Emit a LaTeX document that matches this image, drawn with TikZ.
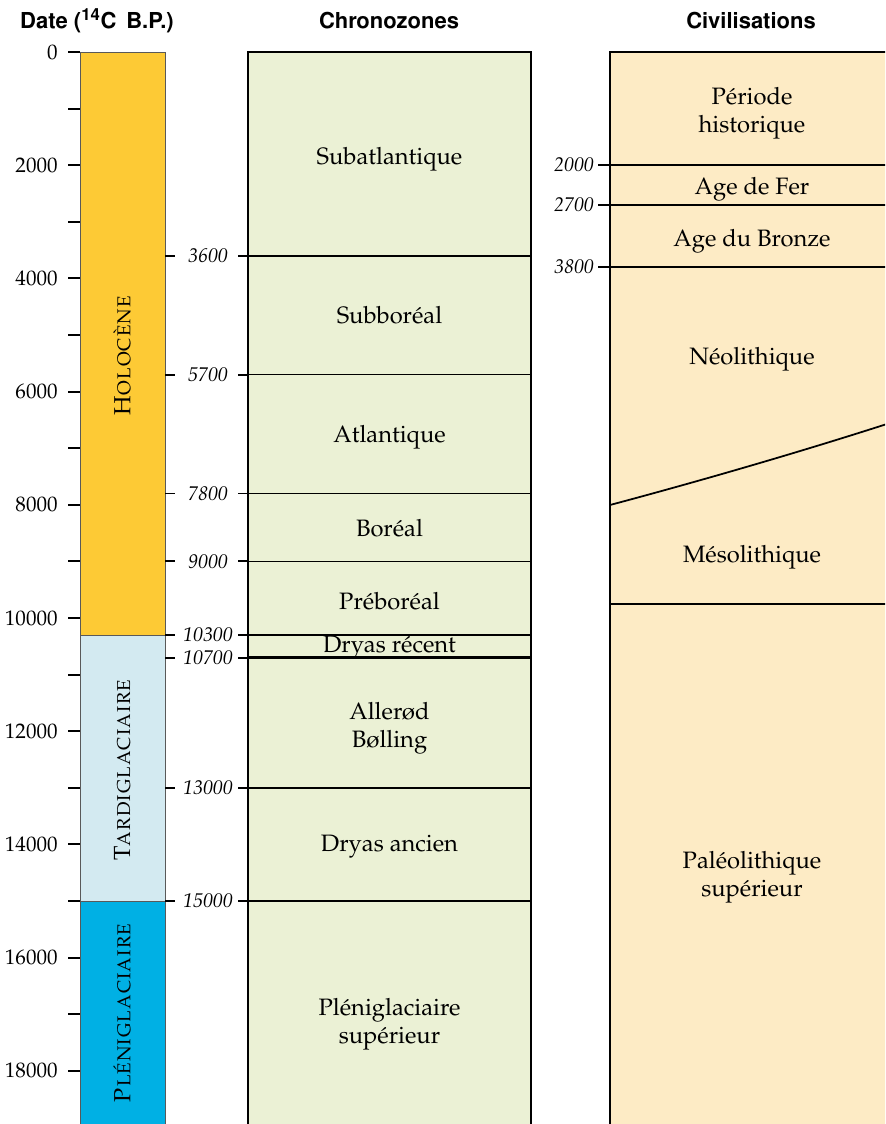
\documentclass[tikz,border=0pt]{standalone}
\usepackage[T1]{fontenc}
\usepackage{mathpazo}
\usepackage[scaled=0.92]{helvet}
\usepackage{xcolor}
\usepackage{tikz}

\definecolor{holoc}{HTML}{FDCA35}
\definecolor{tardi}{HTML}{D3EAF1}
\definecolor{pleni}{HTML}{00B0E4}
\definecolor{chrono}{HTML}{EBF1D5}
\definecolor{civil}{HTML}{FDEBC5}

% milliers d'annees BP -> position verticale
\newcommand{\ypos}[1]{52+#1*56.6}

\begin{document}
\begin{tikzpicture}[x=0.02cm, y=-0.02cm,
    head/.style={font=\sffamily\bfseries\fontsize{13.6}{16}\selectfont},
    yrlbl/.style={font=\fontsize{12}{14}\selectfont, anchor=east, inner sep=0pt},
    bndlbl/.style={font=\itshape\fontsize{11.3}{13}\selectfont, inner sep=0pt},
    zone/.style={font=\fontsize{13.5}{16}\selectfont, align=center, inner sep=0pt},
    epoch/.style={font=\scshape\fontsize{13.3}{15}\selectfont, rotate=90, inner sep=0pt},
    bar/.style={draw=black!65, line width=0.5pt},
    tick/.style={line width=1.1pt},
    frame/.style={line width=1.1pt},
]
\useasboundingbox (0,0) rectangle (885,1124);
\clip (0,0) rectangle (885,1124);

% ---- En-tetes ----
\node[head] (hdate) at (97,21) {Date (\textsuperscript{14}C\, B.P.)};
\node[head] (hchrono) at (389,21) {Chronozones};
\node[head] (hciv) at (751,21) {Civilisations};

% ---- Barre des epoques ----
\draw[bar, fill=holoc] (80,52) rectangle (165,{\ypos{10.3}});
\draw[bar, fill=tardi] (80,{\ypos{10.3}}) rectangle (165,{\ypos{15}});
\draw[bar, fill=pleni] (80,{\ypos{15}}) rectangle (165,1130);
\node[epoch] (holo) at (122,356) {Holocène};
\node[epoch] (tardi) at (122,770) {Tardiglaciaire};
\node[epoch] (pleni) at (122,1013) {Pléniglaciaire};

% ---- Axe des dates ----
\foreach \k in {0,...,19} {
    \draw[tick] (68,{\ypos{\k}}) -- (80,{\ypos{\k}});
}
\foreach \k/\yr in {0/0, 2/2000, 4/4000, 6/6000, 8/8000, 10/10000, 12/12000, 14/14000, 16/16000, 18/18000} {
    \node[yrlbl] (d\yr) at (58,{\ypos{\k}}) {\yr};
}

% ---- Colonne des chronozones ----
\fill[chrono] (248,52) rectangle (531,1130);
\draw[frame] (248,1130) -- (248,52) -- (531,52) -- (531,1130);
\foreach \k/\yr/\w in {3.6/3600/0.9pt, 5.7/5700/0.8pt, 7.8/7800/0.9pt, 9/9000/0.9pt, 10.3/10300/1.1pt, 10.7/10700/1.3pt, 13/13000/1pt, 15/15000/1.1pt} {
    \draw[line width=\w] (248,{\ypos{\k}}) -- (531,{\ypos{\k}});
    \draw[tick] (165,{\ypos{\k}}) -- (175,{\ypos{\k}});
    \draw[tick] (238,{\ypos{\k}}) -- (248,{\ypos{\k}});
    \node[bndlbl] (b\yr) at (208,{\ypos{\k}}) {\yr};
}
\foreach \nm/\y/\txt in {subat/159/Subatlantique, subbo/315/Subboréal, atl/437/Atlantique,
    bor/528/Boréal, prebo/601/Préboréal, dryr/648/Dryas récent, allbol/728/Allerød\\Bølling,
    drya/847/Dryas ancien, plsup/1024/Pléniglaciaire\\supérieur} {
    \node[zone] (\nm) at (389.5,\y) {\txt};
}

% ---- Colonne des civilisations ----
\fill[civil] (610,52) rectangle (890,1130);
\draw[frame] (610,1130) -- (610,52) -- (890,52);
\foreach \k/\yr/\w in {2/2000/0.8pt, 2.7/2700/1.1pt, 3.8/3800/1.4pt} {
    \draw[line width=\w] (610,{\ypos{\k}}) -- (890,{\ypos{\k}});
    \draw[tick] (598,{\ypos{\k}}) -- (610,{\ypos{\k}});
    \node[bndlbl] (c\yr) at (574,{\ypos{\k}}) {\yr};
}
\draw[line width=1pt] (610,505) .. controls (700,481) and (800,452) .. (890,423);
\draw[line width=1.1pt] (610,604) -- (890,604);
\foreach \nm/\y/\txt in {hist/113/Période\\historique, fer/189/Age de Fer, bronze/241/Age du Bronze,
    neo/359/Néolithique, meso/557/Mésolithique, paleo/877/Paléolithique\\supérieur} {
    \node[zone] (\nm) at (752,\y) {\txt};
}

\end{tikzpicture}
\end{document}
